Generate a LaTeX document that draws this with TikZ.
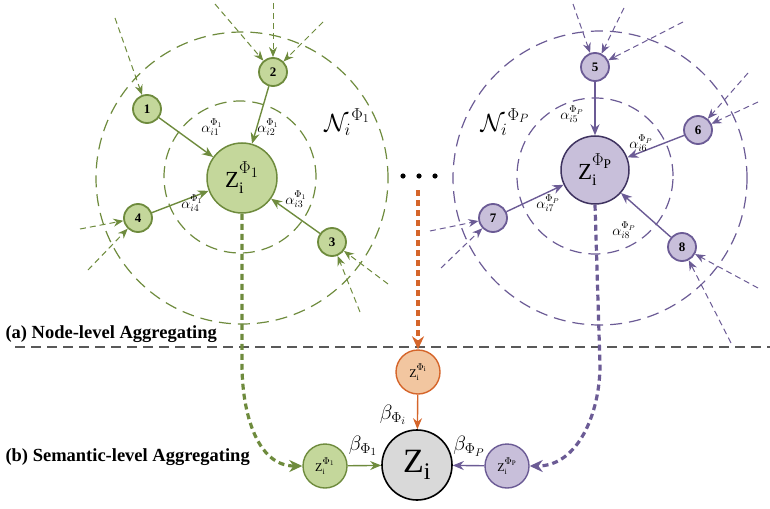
\documentclass[tikz,border=0pt]{standalone}
\usepackage{fontspec}
\setmainfont{Liberation Serif}
\usetikzlibrary{arrows.meta}
\definecolor{gline}{HTML}{6E8B3D}
\definecolor{gfill}{HTML}{C4D79B}
\definecolor{pline}{HTML}{6B5B95}
\definecolor{pfill}{HTML}{C8BFDA}
\definecolor{pdark}{HTML}{3F3360}
\definecolor{oline}{HTML}{D5652A}
\definecolor{ofill}{HTML}{F2C6A0}
\definecolor{zfill}{HTML}{D9D9D9}
% embedding label: Z_i with a large raised metapath superscript
\newcommand{\zemb}[3]{$\mathrm{Z}_{\mathrm{i}}^{\raisebox{#3}{\fontsize{#2}{#2}\selectfont$#1$}}$}
\tikzset{
  nbr/.style={circle, line width=1.8pt, minimum size=28pt, inner sep=0pt,
    font=\bfseries\fontsize{13}{13}\selectfont},
  ctr/.style={circle, line width=1.5pt, minimum size=70pt, inner sep=0pt,
    font=\fontsize{23}{23}\selectfont},
  sem/.style={circle, line width=1.4pt, minimum size=44pt, inner sep=0pt,
    font=\fontsize{12}{12}\selectfont},
  ring/.style={line width=1.2pt, dash pattern=on 12pt off 7pt},
  incoming/.style={line width=1pt, dash pattern=on 6pt off 4pt,
    -{Stealth[length=10pt,width=8pt]}},
  edge/.style={line width=1.4pt, -{Stealth[length=11pt,width=9pt]}},
  thickdash/.style={line width=3.2pt, dash pattern=on 6pt off 4pt,
    -{Stealth[length=13pt,width=12pt]}},
  wt/.style={font=\fontsize{14}{14}\selectfont},
  bt/.style={font=\fontsize{21}{21}\selectfont},
  level/.style={anchor=west, font=\bfseries\fontsize{18.5}{18.5}\selectfont},
}
\begin{document}
\begin{tikzpicture}[x=1pt,y=1pt]
\useasboundingbox (0,0) rectangle (770,-508);
% Metapath 1 neighbourhood
\draw[gline, ring] (240,-177) circle [radius=76];
\draw[gline, ring] (242,-178) circle [radius=146];
\node[ctr, draw=gline, fill=gfill] (zl) at (242,-178) {\zemb{\Phi_1}{19}{5pt}};
\node[nbr, draw=gline, fill=gfill] (n1) at (147,-109) {1};
\node[nbr, draw=gline, fill=gfill] (n2) at (273,-72) {2};
\node[nbr, draw=gline, fill=gfill] (n3) at (332,-242) {3};
\node[nbr, draw=gline, fill=gfill] (n4) at (138,-218) {4};
\node[font=\fontsize{26}{26}\selectfont] (nl) at (347,-122) {$\mathcal{N}_i^{\,\Phi_1}$};
% Metapath P neighbourhood
\draw[pline, ring] (595,-176) circle [radius=78];
\draw[pline, ring] (600,-178) circle [radius=147];
\node[ctr, draw=pdark, fill=pfill, minimum size=68pt] (zr) at (595,-170) {\zemb{\Phi_{\mathrm{P}}}{19}{5pt}};
\node[nbr, draw=pline, fill=pfill] (n5) at (595,-67) {5};
\node[nbr, draw=pline, fill=pfill] (n6) at (698,-130) {6};
\node[nbr, draw=pline, fill=pfill] (n7) at (493,-218) {7};
\node[nbr, draw=pline, fill=pfill] (n8) at (682,-247) {8};
\node[font=\fontsize{26}{26}\selectfont] (nr) at (505,-122) {$\mathcal{N}_i^{\,\Phi_P}$};
% Neighbours of neighbours
\foreach \x/\y/\t [count=\k] in {115/-18/n1, 215/-4/n2, 273/-3/n2, 323/-22/n2,
    360/-312/n3, 388/-284/n3, 80/-229/n4, 88/-270/n4}
  \draw[gline, incoming] (\x,\y) coordinate (gin\k) -- (\t);
\foreach \x/\y/\t [count=\k] in {573/-4/n5, 624/-8/n5, 683/-22/n5, 748/-73/n6,
    758/-102/n6, 430/-231/n7, 441/-268/n7, 758/-288/n8, 731/-343/n8}
  \draw[pline, incoming] (\x,\y) coordinate (pin\k) -- (\t);
% Node-level attention
\foreach \t in {n1,n2,n3,n4}
  \draw[gline, edge] (\t) -- (zl);
\foreach \t in {n5,n6,n7,n8}
  \draw[pline, edge] (\t) -- (zr);
\node[wt] at (212,-127) {$\alpha_{i1}^{\Phi_1}$};
\node[wt] at (268,-127) {$\alpha_{i2}^{\Phi_1}$};
\node[wt] at (296,-199) {$\alpha_{i3}^{\Phi_1}$};
\node[wt] at (192,-203) {$\alpha_{i4}^{\Phi_1}$};
\node[wt] at (572,-114) {$\alpha_{i5}^{\Phi_P}$};
\node[wt] at (641,-143) {$\alpha_{i6}^{\Phi_P}$};
\node[wt] at (548,-203) {$\alpha_{i7}^{\Phi_P}$};
\node[wt] at (624,-230) {$\alpha_{i8}^{\Phi_P}$};
% Other metapaths
\foreach \x in {403,419,435}
  \fill (\x,-176) circle [radius=2.6];
\coordinate (dots) at (418,-190);
% Split between levels
\coordinate (cutl) at (15,-347);
\coordinate (cutr) at (770,-347);
\draw[black!65, line width=1.4pt, dash pattern=on 10pt off 6pt] (cutl) -- (cutr);
\node[level] (la) at (2,-334) {(a) Node-level Aggregating};
\node[level] (lb) at (2,-457) {(b) Semantic-level Aggregating};
% Semantic-level aggregation
\node[circle, draw=black, fill=zfill, line width=1.6pt, minimum size=70pt, inner sep=0pt,
  font=\fontsize{34}{34}\selectfont] (z) at (417,-465) {$\mathrm{Z}_{\mathrm{i}}$};
\node[sem, draw=oline, fill=ofill] (os) at (418,-372) {\zemb{\Phi_{\mathrm{i}}}{10}{3pt}};
\node[sem, draw=gline, fill=gfill] (gs) at (325,-466) {\zemb{\Phi_1}{10}{3pt}};
\node[sem, draw=pline, fill=pfill] (ps) at (507,-466) {\zemb{\Phi_{\mathrm{P}}}{10}{3pt}};
\draw[oline, edge] (os) -- (z);
\draw[gline, edge] (gs) -- (z);
\draw[pline, edge] (ps) -- (z);
\node[bt] at (393,-415) {$\beta_{\Phi_i}$};
\node[bt] at (363,-446) {$\beta_{\Phi_1}$};
\node[bt] at (469,-446) {$\beta_{\Phi_P}$};
% Embeddings passed down
\draw[gline, thickdash] (zl.south) -- (242,-365) to[out=-90,in=180] (gs.west);
\draw[pline, thickdash] (zr.south) -- (600,-365) to[out=-90,in=0] (ps.east);
\draw[oline, thickdash] (dots) -- (os.north);
\end{tikzpicture}
\end{document}
